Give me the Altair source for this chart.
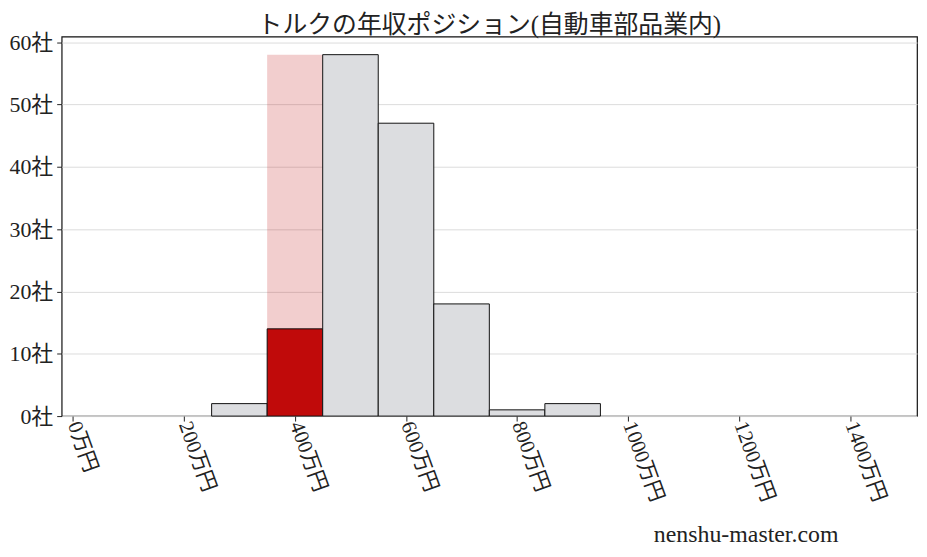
import altair as alt
import pandas as pd

bin_start = [250, 350, 450, 550, 650, 750, 850]
bin_end = [350, 450, 550, 650, 750, 850, 950]
counts = [2, 14, 58, 47, 18, 1, 2]
highlight_start = 350
x_ticks = [0, 200, 400, 600, 800, 1000, 1200, 1400]
y_ticks = [0, 10, 20, 30, 40, 50, 60]
title_text = "トルクの年収ポジション(自動車部品業内)"
watermark = "nenshu-master.com"

FONT = "Liberation Serif, 'Noto Sans CJK JP', serif"

df = pd.DataFrame({"start": bin_start, "end": bin_end, "count": counts})
df["hl"] = df["start"] == highlight_start
bg = pd.DataFrame({"start": [highlight_start], "end": [highlight_start + 100], "count": [max(counts)]})

xscale = alt.Scale(domain=[-20, 1520], nice=False, zero=False)
yscale = alt.Scale(domain=[0, 60.9], nice=False)

xaxis = alt.Axis(values=x_ticks, labelExpr="datum.value + '万円'", labelAngle=70,
                 labelAlign="left", labelBaseline="middle", labelFontSize=21,
                 labelFont=FONT, labelColor="#222", tickColor="#222", tickSize=5,
                 domain=False, grid=False, title=None, labelPadding=1)
yaxis = alt.Axis(values=y_ticks, labelExpr="datum.value + '社'", labelFontSize=22,
                 labelFont=FONT, labelColor="#222", tickColor="#222", tickSize=5,
                 domain=False, grid=True, gridColor="#dcdcdc", gridWidth=1,
                 title=None, labelPadding=4)

base_bg = alt.Chart(bg).mark_rect(color="#c00a0a", opacity=0.2).encode(
    x=alt.X("start:Q", scale=xscale, axis=xaxis),
    x2="end:Q",
    y=alt.Y("count:Q", scale=yscale, axis=yaxis),
    y2=alt.datum(0),
)

bars = alt.Chart(df).mark_rect(stroke="#111", strokeWidth=1).encode(
    x=alt.X("start:Q", scale=xscale),
    x2="end:Q",
    y=alt.Y("count:Q", scale=yscale),
    y2=alt.datum(0),
    color=alt.condition(alt.datum.hl, alt.value("#c00a0a"), alt.value("#dcdde0")),
)

wm = alt.Chart(pd.DataFrame({"t": [watermark]})).mark_text(
    font=FONT, fontSize=24, color="#222", align="center", baseline="alphabetic"
).encode(text="t:N", x=alt.value(689), y=alt.value(509))

chart = alt.layer(base_bg, bars, wm).properties(
    width=861, height=382,
    title=alt.TitleParams(title_text, font=FONT, fontSize=25, fontWeight="normal",
                          color="#222", anchor="middle", offset=-7),
    autosize=alt.AutoSizeParams(type="none"),
    padding={"left": 54, "top": 27, "right": 2, "bottom": 130},
).configure_view(stroke="#111", strokeWidth=1.2)

chart.save("out.html", embed_options={"renderer": "svg", "actions": False})
